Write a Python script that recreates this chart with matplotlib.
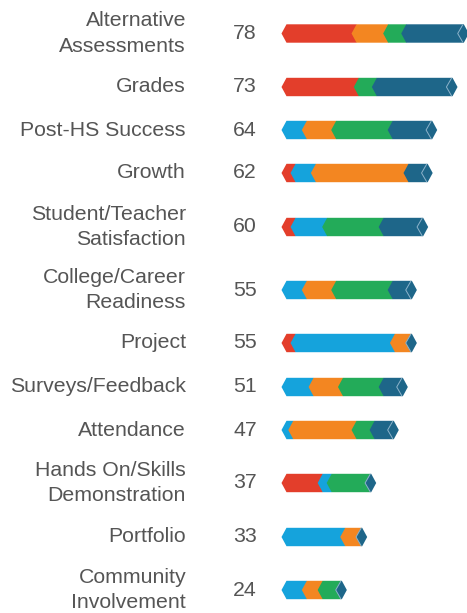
import matplotlib
matplotlib.use("Agg")
import matplotlib.pyplot as plt
from matplotlib.patches import Polygon
from matplotlib.transforms import blended_transform_factory
from matplotlib.lines import Line2D

# ---------------- data ----------------
categories = [
    "Alternative\nAssessments", "Grades", "Post-HS Success", "Growth",
    "Student/Teacher\nSatisfaction", "College/Career\nReadiness", "Project",
    "Surveys/Feedback", "Attendance", "Hands On/Skills\nDemonstration",
    "Portfolio", "Community\nInvolvement",
]
totals = [78, 73, 64, 62, 60, 55, 55, 51, 47, 37, 33, 24]
# segment series (stack order left->right)
red_vals       = [31, 32, 0, 4, 4, 0, 4, 0, 0, 16, 0, 0]
lightblue_vals = [0, 0, 9, 9, 14, 9, 44, 12, 3, 4, 26, 9]
orange_vals    = [14, 0, 13, 41, 0, 13, 7, 13, 28, 0, 7, 7]
green_vals     = [8, 8, 25, 0, 25, 25, 0, 18, 8, 17, 0, 8]
darkblue_vals  = [25, 33, 17, 8, 17, 8, 0, 8, 8, 0, 0, 0]

series = [red_vals, lightblue_vals, orange_vals, green_vals, darkblue_vals]
colors = ["#E33E2B", "#15A3DC", "#F38621", "#23AB59", "#1E6689"]
cap_edge = "#8DB3CB"
text_color = "#555555"

# ---------------- layout ----------------
W, H = 467, 613
dpi = 100
fig = plt.figure(figsize=(W / dpi, H / dpi), dpi=dpi)
ax = fig.add_axes([0, 0, 1, 1])
px_per_unit = 2.259
x0_px = 286.5
ax.set_xlim(-x0_px / px_per_unit, (W - x0_px) / px_per_unit)
ax.set_ylim(H, 0)
ax.axis("off")

row_y = [33.5, 87, 130, 173, 227, 290, 343, 387, 430, 483, 537, 590]
bar_half = 9.2
d = 5.0 / px_per_unit  # chevron depth in data units
cap_w = 0.5

def hexagon(a, b, yc, **kw):
    pts = [(a, yc - bar_half), (b, yc - bar_half), (b + d, yc),
           (b, yc + bar_half), (a, yc + bar_half), (a - d, yc)]
    return Polygon(pts, closed=True, **kw)

for i, yc in enumerate(row_y):
    start = 0.0
    for vals, col in zip(series, colors):
        v = vals[i]
        if v <= 0:
            continue
        ax.add_patch(hexagon(start, start + v, yc, facecolor=col,
                             edgecolor="none", antialiased=True))
        start += v
    # end cap
    end = totals[i]
    ax.add_patch(hexagon(end, end + cap_w, yc, facecolor=colors[4],
                         edgecolor="none"))
    ax.add_line(Line2D([end, end - d, end],
                       [yc - bar_half + 0.6, yc, yc + bar_half - 0.6],
                       color=cap_edge, lw=0.7))

tr = blended_transform_factory(ax.transAxes, ax.transData)
fs = 15.3
for i, yc in enumerate(row_y):
    ax.text(186 / W, yc, categories[i], transform=tr, ha="right",
            va="center", fontsize=fs, color=text_color,
            family="Liberation Sans", linespacing=1.44)
    ax.text(233 / W, yc, str(totals[i]), transform=tr, ha="left",
            va="center", fontsize=fs, color=text_color,
            family="Liberation Sans")

fig.savefig("out.png", dpi=dpi)
